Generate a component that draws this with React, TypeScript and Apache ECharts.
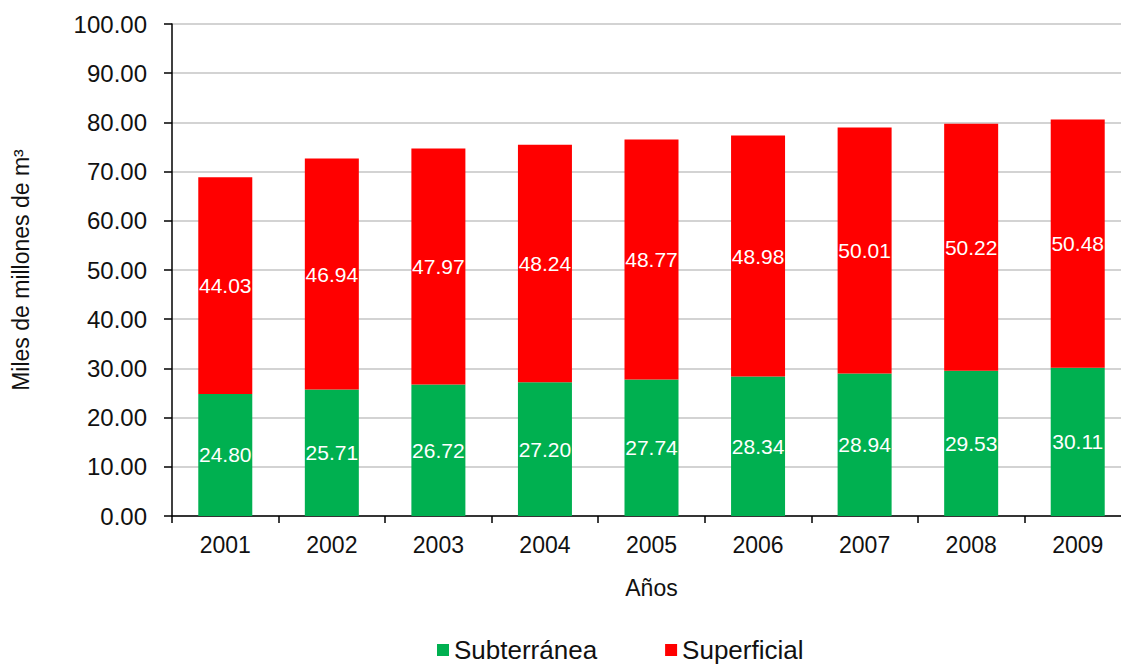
import React, { useEffect, useRef } from "react";
import * as echarts from "echarts";

const years = ["2001", "2002", "2003", "2004", "2005", "2006", "2007", "2008", "2009"];
const subterranea = [24.8, 25.71, 26.72, 27.2, 27.74, 28.34, 28.94, 29.53, 30.11];
const superficial = [44.03, 46.94, 47.97, 48.24, 48.77, 48.98, 50.01, 50.22, 50.48];

const FONT = "Liberation Sans, Arial, sans-serif";
const TXT = "#111111";

export default function App() {
  const ref = useRef<HTMLDivElement>(null);
  useEffect(() => {
    const chart = echarts.init(ref.current!, null, { renderer: "svg" });
    const label = {
      show: true,
      position: "inside" as const,
      color: "#ffffff",
      fontSize: 21,
      fontFamily: FONT,
      formatter: (p: any) => Number(p.value).toFixed(2),
    };
    chart.setOption({
      animation: false,
      backgroundColor: "#ffffff",
      grid: {
        left: 172,
        width: 959,
        top: 24,
        height: 492,
        containLabel: false,
        outerBoundsMode: "none",
      },
      legend: {
        top: 632,
        left: 432,
        icon: "rect",
        itemWidth: 12,
        itemHeight: 12,
        itemGap: 68,
        textStyle: { fontSize: 26, fontFamily: FONT, color: TXT },
        data: ["Subterránea", "Superficial"],
      },
      xAxis: {
        type: "category",
        data: years,
        name: "Años",
        nameLocation: "middle",
        nameGap: 60,
        nameTextStyle: { fontSize: 23, fontFamily: FONT, color: TXT },
        axisLine: { lineStyle: { color: "#000", width: 1.5 } },
        axisTick: { show: true, length: 7, lineStyle: { color: "#000", width: 1.5 } },
        axisLabel: { fontSize: 23, fontFamily: FONT, color: TXT, margin: 17 },
      },
      yAxis: {
        type: "value",
        min: 0,
        max: 100,
        interval: 10,
        name: "Miles de millones de m³",
        nameLocation: "middle",
        nameGap: 140,
        nameRotate: 90,
        nameTextStyle: { fontSize: 23, fontFamily: FONT, color: TXT },
        axisLine: { show: true, lineStyle: { color: "#000", width: 1.5 } },
        axisTick: { show: true, length: 8, lineStyle: { color: "#000", width: 1.5 } },
        axisLabel: {
          fontSize: 24,
          fontFamily: FONT,
          color: TXT,
          margin: 25,
          formatter: (v: number) => v.toFixed(2),
        },
        splitLine: { show: true, lineStyle: { color: "#c4c4c4", width: 1.5 } },
      },
      series: [
        {
          name: "Subterránea",
          type: "bar",
          stack: "total",
          barWidth: 54,
          data: subterranea,
          itemStyle: { color: "#00b050" },
          label,
        },
        {
          name: "Superficial",
          type: "bar",
          stack: "total",
          barWidth: 54,
          data: superficial,
          itemStyle: { color: "#ff0000" },
          label,
        },
      ],
    });
    return () => chart.dispose();
  }, []);
  return <div ref={ref} style={{ width: 1121, height: 664, position: "absolute", left: 0, top: 0 }} />;
}
